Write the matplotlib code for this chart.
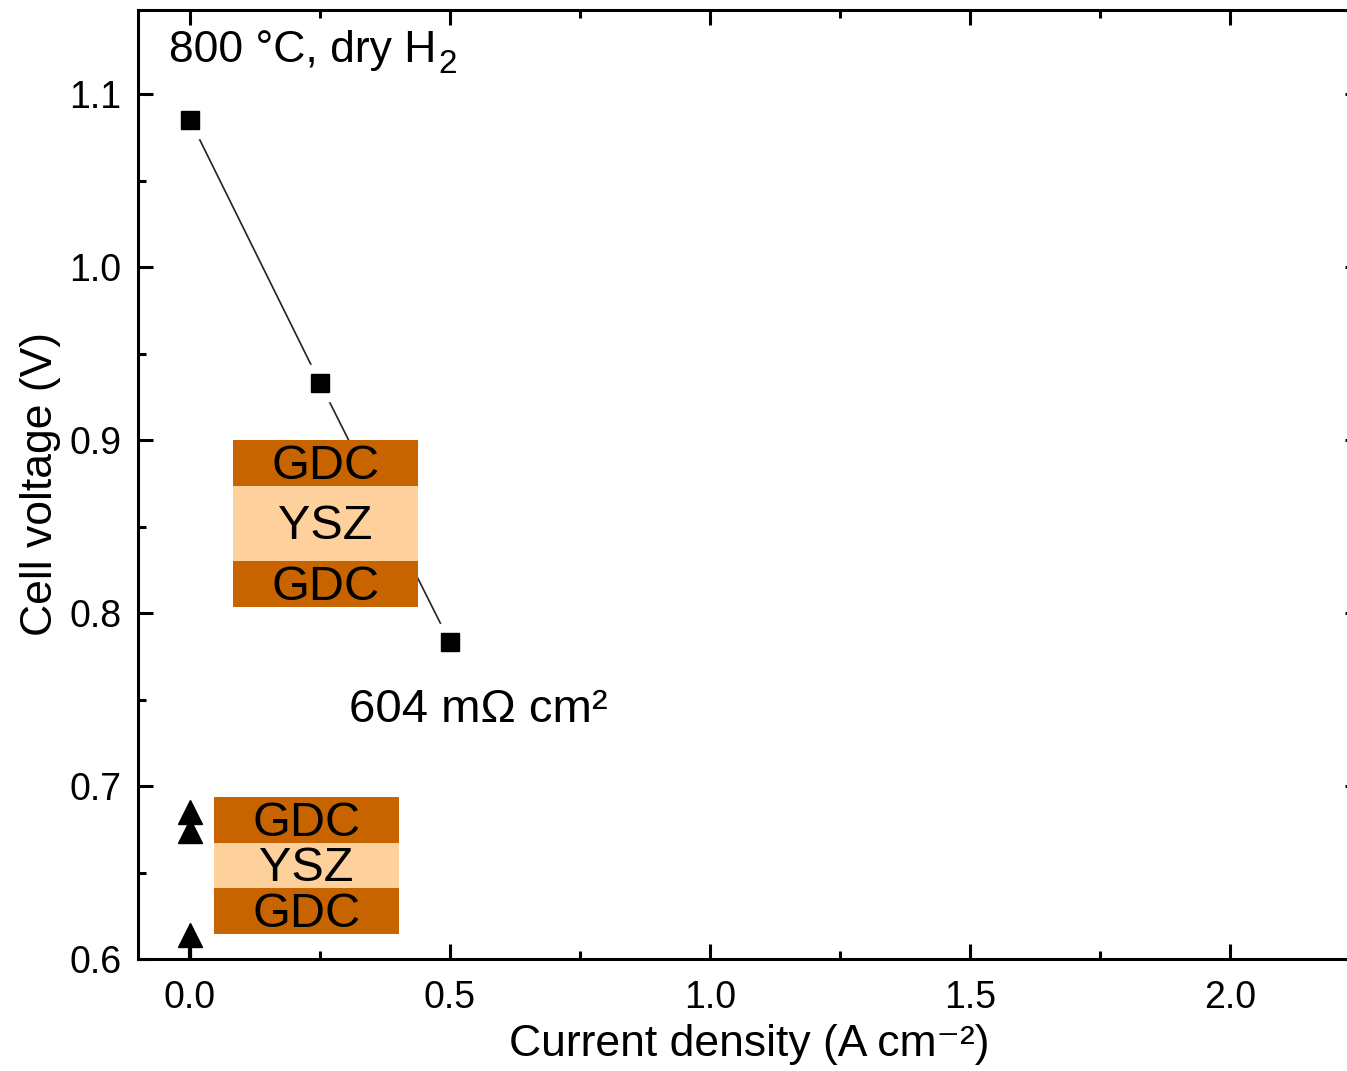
import numpy as np
import matplotlib.pyplot as plt
from matplotlib.patches import Rectangle
from matplotlib.ticker import MultipleLocator

plt.rcParams['font.family'] = ['Liberation Sans', 'DejaVu Sans']

# data
j_sq = [0.0, 0.25, 0.5]
v_sq = [1.085, 0.933, 0.783]
j_tri = [0.0, 0.0, 0.0]
v_tri = [0.685, 0.674, 0.614]
# the last triangle connects to a point below the visible range
j_tail = [0.0, 0.0]
v_tail = [0.614, 0.52]

xticks = [0.0, 0.5, 1.0, 1.5, 2.0]
yticks = [0.6, 0.7, 0.8, 0.9, 1.0, 1.1]

dark = '#C86400'
light = '#FDD09C'

fig = plt.figure(figsize=(13.47, 10.71), dpi=100)
ax = fig.add_axes([138/1347, 112/1071, 1222/1347, 949/1071])

ax.plot(j_sq, v_sq, '-', color='#222222', lw=1.2, zorder=2)
ax.plot(j_sq, v_sq, 's', color='white', ms=26, zorder=3)
ax.plot(j_sq, v_sq, 's', color='black', ms=13.5, zorder=4)

ax.plot(j_tail, v_tail, '-', color='black', lw=3, zorder=2)
ax.plot(j_tri, v_tri, '^', color='black', ms=17, zorder=4)

ax.set_xlim(-0.1, 2.25)
ax.set_ylim(0.6, 1.1486)
ax.set_xticks(xticks)
ax.set_yticks(yticks)
ax.set_xticklabels([f'{t:.1f}' for t in xticks])
ax.set_yticklabels([f'{t:.1f}' for t in yticks])
ax.xaxis.set_minor_locator(MultipleLocator(0.25))
ax.yaxis.set_minor_locator(MultipleLocator(0.05))
ax.tick_params(which='both', direction='in', top=True, right=True, width=2.2,
               labelsize=27, pad=12)
ax.tick_params(axis='x', pad=15)
ax.tick_params(which='major', length=11)
ax.tick_params(which='minor', length=6)
for s in ax.spines.values():
    s.set_linewidth(2.2)

ax.set_xlabel('Current density (A cm⁻²)', fontsize=32, labelpad=6)
ax.set_ylabel('Cell voltage (V)', fontsize=32, labelpad=6)

t = ax.text(-0.04, 1.125, '800 °C, dry H', fontsize=32, va='center', ha='left')
ax.annotate('2', xy=(1, 0), xycoords=t, xytext=(1, -6), textcoords='offset points',
            fontsize=24, va='bottom', ha='left')
ax.text(0.305, 0.744, '604 mΩ cm²', fontsize=34, va='center', ha='left')

# layer sketches
def stack(x0, x1, ys, size):
    cols = [dark, light, dark]
    labs = ['GDC', 'YSZ', 'GDC']
    for k in range(3):
        y_top, y_bot = ys[k], ys[k + 1]
        ax.add_patch(Rectangle((x0, y_bot), x1 - x0, y_top - y_bot,
                               facecolor=cols[k], edgecolor='none', zorder=5))
        ax.text((x0 + x1) / 2, (y_top + y_bot) / 2 - 0.002, labs[k], fontsize=size,
                ha='center', va='center', zorder=6)

stack(0.0827, 0.4385, [0.9, 0.8734, 0.8301, 0.8035], 35)
stack(0.0462, 0.4019, [0.6936, 0.6671, 0.6410, 0.6145], 35)

fig.savefig('out.png', dpi=100)
